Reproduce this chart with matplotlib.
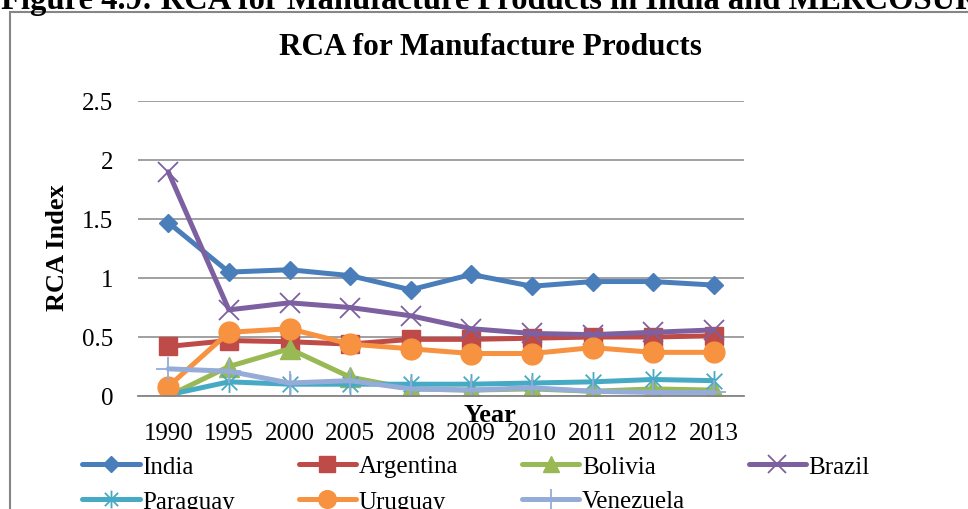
import matplotlib.pyplot as plt
from matplotlib.path import Path
from matplotlib.patches import Rectangle

years = ["1990", "1995", "2000", "2005", "2008", "2009", "2010", "2011", "2012", "2013"]
india = [1.47, 1.05, 1.07, 1.02, 0.90, 1.03, 0.93, 0.97, 0.97, 0.94]
argentina = [0.42, 0.47, 0.46, 0.44, 0.48, 0.48, 0.49, 0.50, 0.50, 0.51]
bolivia = [0.00, 0.25, 0.40, 0.16, 0.06, 0.05, 0.06, 0.04, 0.06, 0.05]
brazil = [1.90, 0.73, 0.79, 0.75, 0.68, 0.57, 0.53, 0.52, 0.54, 0.56]
paraguay = [0.01, 0.12, 0.10, 0.10, 0.10, 0.10, 0.11, 0.12, 0.14, 0.13]
uruguay = [0.08, 0.54, 0.57, 0.44, 0.40, 0.36, 0.36, 0.41, 0.37, 0.37]
venezuela = [0.23, 0.21, 0.11, 0.13, 0.06, 0.05, 0.07, 0.04, 0.03, 0.03]
yticks = [0, 0.5, 1, 1.5, 2, 2.5]
ytick_labels = ["0", "0.5", "1", "1.5", "2", "2.5"]

plt.rcParams["font.family"] = ["Liberation Serif", "DejaVu Serif"]

# asterisk marker: vertical stroke plus an x
star = Path([(0, -1), (0, 1), (-0.75, -0.75), (0.75, 0.75), (-0.75, 0.75), (0.75, -0.75)],
            [Path.MOVETO, Path.LINETO, Path.MOVETO, Path.LINETO, Path.MOVETO, Path.LINETO])

series = [
    ("India", india, "#4a7ebb", "D", 9.5),
    ("Argentina", argentina, "#be4b48", "s", 13),
    ("Bolivia", bolivia, "#98b954", "^", 14),
    ("Brazil", brazil, "#7d60a0", "x", 15),
    ("Paraguay", paraguay, "#46aac5", star, 15),
    ("Uruguay", uruguay, "#f69240", "o", 15),
    ("Venezuela", venezuela, "#95acd8", "+", 17),
]

fig = plt.figure(figsize=(9.68, 5.10), dpi=100)
ax = fig.add_axes([138 / 968, 1 - 397 / 510, (744 - 138) / 968, (397 - 102) / 510])

x = list(range(len(years)))
lines = []
for name, vals, color, marker, ms in series:
    thin = marker in ("x", "+") or isinstance(marker, Path)
    ln, = ax.plot(x, vals, color=color, lw=3.6, marker=marker, markersize=ms,
                  markerfacecolor=color, markeredgecolor=color,
                  markeredgewidth=1.3 if thin else 1.0, label=name, solid_capstyle="round")
    lines.append(ln)

ax.set_xlim(-0.5, len(years) - 0.5)
ax.set_ylim(0, 2.5)
ax.set_xticks(x)
ax.set_xticklabels(years)
ax.set_yticks(yticks)
ax.set_yticklabels(ytick_labels)
ax.tick_params(axis="both", length=0, labelsize=18)
ax.tick_params(axis="y", pad=18)
ax.tick_params(axis="x", pad=19)
ax.grid(axis="y", color="#868686", lw=1.1)
ax.set_axisbelow(True)
for side in ("top", "right", "left"):
    ax.spines[side].set_visible(False)
ax.spines["bottom"].set_color("#868686")
ax.spines["bottom"].set_linewidth(1.3)

ax.set_xlabel("Year", fontsize=19, fontweight="bold")
ax.xaxis.label.set_va("center")
ax.xaxis.set_label_coords((490 - 138) / 606, (397 - 416) / 295)
ax.set_ylabel("RCA Index", fontsize=19, fontweight="bold")
ax.yaxis.label.set_va("center")
ax.yaxis.set_label_coords((57 - 138) / 606, (397 - 248) / 295)

fig.text(490 / 968, 1 - 55 / 510, "RCA for Manufacture Products", ha="center",
         va="baseline", fontsize=22.5, fontweight="bold")
fig.text(0.001, 1 - 9 / 510, "Figure 4.9: RCA for Manufacture Products in India and MERCOSUR",
         ha="left", va="baseline", fontsize=23.5, fontweight="bold")

# chart area frame
fig.patches.append(Rectangle((10 / 968, -0.2), 1.0, 1.2 - 13 / 510, transform=fig.transFigure,
                             fill=False, edgecolor="#868686", lw=1.5))

# legend fills column by column, so order entries to read across rows
order = [0, 4, 1, 5, 2, 6, 3]
fig.legend([lines[i] for i in order], [series[i][0] for i in order],
           loc="upper left", bbox_to_anchor=(82 / 968, 1 - 456 / 510), ncol=4,
           frameon=False, fontsize=18, handlelength=2.3, handletextpad=0.1,
           columnspacing=2.55, labelspacing=0.5, borderpad=0, borderaxespad=0,
           markerscale=0.85)

fig.savefig("out.png", dpi=100)
